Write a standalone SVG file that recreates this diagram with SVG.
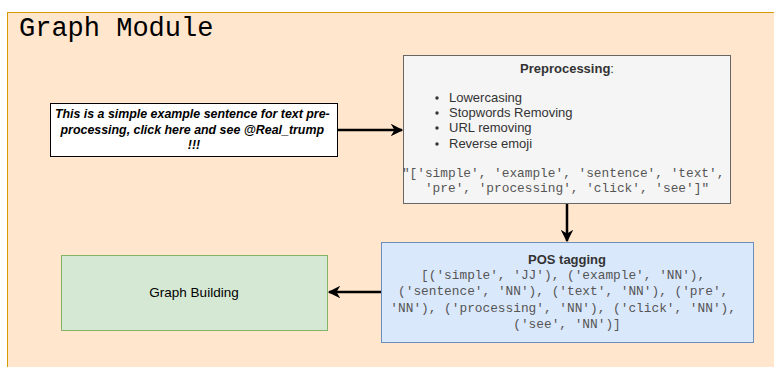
<svg xmlns="http://www.w3.org/2000/svg" width="774" height="367" viewBox="0 0 774 367">
<defs>
<style>
.sans{font-family:"Liberation Sans",Arial,sans-serif;}
.mono{font-family:"Liberation Mono","Courier New",monospace;}
.code{font-family:"Liberation Mono","Courier New",monospace;font-size:12.8px;fill:#555;}
.edge{stroke:#000;stroke-width:2.5;fill:none;}
</style>
<marker id="arr" viewBox="0 0 10 10" refX="9" refY="5" markerWidth="5" markerHeight="5" orient="auto" markerUnits="strokeWidth">
<path d="M0,0 L10,5 L0,10 L3,5 Z" fill="#000"/>
</marker>
</defs>
<rect width="774" height="367" fill="#fff"/>
<g id="container">
<rect x="7.5" y="12.5" width="780" height="370" fill="#ffe6cc" stroke="#d79b00"/>
<text x="19" y="36" class="mono" font-size="27" fill="#000">Graph Module</text>
</g>
<g id="sentence">
<rect x="50.5" y="103.5" width="287" height="53" fill="#fff" stroke="#000"/>
<text class="sans" font-size="12.4" font-weight="bold" font-style="italic" text-anchor="middle" fill="#000">
<tspan x="194" y="118">This is a simple example sentence for text pre-</tspan>
<tspan x="194" y="134">processing, click here and see @Real_trump</tspan>
<tspan x="194" y="149">!!!</tspan>
</text>
</g>
<g id="preprocessing">
<rect x="403.5" y="55.5" width="327" height="148" fill="#f5f5f5" stroke="#666"/>
<text x="567" y="73" class="sans" font-size="13" text-anchor="middle" fill="#333"><tspan font-weight="bold">Preprocessing</tspan>:</text>
<g class="sans" font-size="13" fill="#333">
<circle cx="437" cy="98" r="1.7"/>
<circle cx="437" cy="113" r="1.7"/>
<circle cx="437" cy="128" r="1.7"/>
<circle cx="437" cy="144" r="1.7"/>
<text x="449" y="102">Lowercasing</text>
<text x="449" y="117">Stopwords Removing</text>
<text x="449" y="132">URL removing</text>
<text x="449" y="148">Reverse emoji</text>
</g>
<text class="code" text-anchor="middle">
<tspan x="567" y="177">"['simple', 'example', 'sentence', 'text',</tspan>
<tspan x="567" y="192">'pre', 'processing', 'click', 'see']"</tspan>
</text>
</g>
<g id="pos">
<rect x="381.5" y="242.5" width="372" height="100" fill="#dae8fc" stroke="#6c8ebf"/>
<text x="567" y="264" class="sans" font-size="13" font-weight="bold" text-anchor="middle" fill="#333">POS tagging</text>
<text class="code" text-anchor="middle">
<tspan x="567" y="279">[('simple', 'JJ'), ('example', 'NN'),</tspan>
<tspan x="567" y="295">('sentence', 'NN'), ('text', 'NN'), ('pre',</tspan>
<tspan x="567" y="312">'NN'), ('processing', 'NN'), ('click', 'NN'),</tspan>
<tspan x="567" y="328">('see', 'NN')]</tspan>
</text>
</g>
<g id="graph-building">
<rect x="61.5" y="255.5" width="266" height="75" fill="#d5e8d4" stroke="#82b366"/>
<text x="194" y="297" class="sans" font-size="13.5" text-anchor="middle" fill="#000">Graph Building</text>
</g>
<g id="connectors">
<path class="edge" d="M338,130 L402,130" marker-end="url(#arr)"/>
<path class="edge" d="M567,204 L567,241" marker-end="url(#arr)"/>
<path class="edge" d="M381,292 L329,292" marker-end="url(#arr)"/>
</g>
</svg>
